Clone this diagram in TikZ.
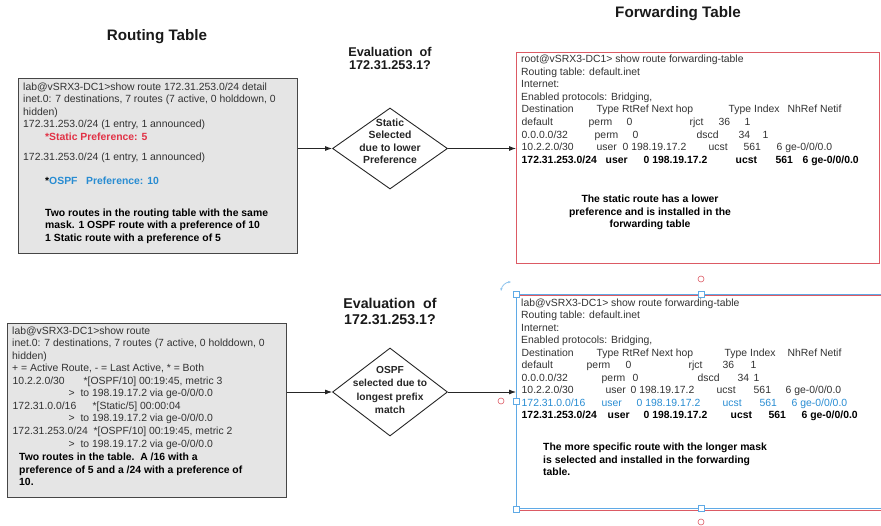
\documentclass[tikz,border=0pt]{standalone}
\usepackage{fontspec}
\setmainfont{Liberation Sans}
\usetikzlibrary{shapes.geometric,arrows.meta}

\definecolor{boxgray}{RGB}{229,229,229}
\definecolor{edgegray}{RGB}{70,70,70}
\definecolor{txtgray}{RGB}{50,50,50}
\definecolor{fwdred}{RGB}{220,90,100}
\definecolor{staticred}{RGB}{225,50,70}
\definecolor{ospfblue}{RGB}{40,140,210}
\definecolor{selblue}{RGB}{95,170,230}

% column helper: places #2 at #1 pt from the start of the line
\newcommand\cola[2]{\makebox[0pt][l]{\hspace*{#1pt}#2}}

\tikzset{
  txt/.style={anchor=base west, inner sep=0, font=\fontsize{10.4}{12.5}\selectfont, text=txtgray},
  btxt/.style={anchor=base west, inner sep=0, font=\fontsize{10.4}{12.5}\selectfont\bfseries, text=black},
  ctxt/.style={anchor=base, inner sep=0, font=\fontsize{10.4}{12.5}\selectfont\bfseries, text=black},
  title/.style={inner sep=0, font=\fontsize{15.2}{17}\selectfont\bfseries, text=black!90},
  evaltxt/.style={inner sep=0, align=center, text=black!90},
  rtbox/.style={draw=edgegray, fill=boxgray, line width=0.9pt, anchor=north west, inner sep=0},
  fwdbox/.style={draw=fwdred, line width=0.9pt, anchor=north west, inner sep=0},
  decision/.style={diamond, draw=black!85, line width=0.9pt, inner sep=0, minimum width=115pt},
  dtext/.style={align=center, inner sep=0, text=black!85},
  flow/.style={draw=black!85, line width=0.8pt, -{Latex[length=7pt,width=5pt]}},
  selhandle/.style={draw=selblue, fill=white, line width=0.8pt, minimum size=6pt, inner sep=0},
  ring/.style={circle, draw=fwdred, line width=0.6pt, minimum size=6pt, inner sep=0},
}

\begin{document}
\begin{tikzpicture}[x=1pt, y=-1pt]
\useasboundingbox (0,0) rectangle (881,526);

% ---------- headings ----------
\node[title] (rtitle) at (157,37) {Routing Table};
\node[title] (ftitle) at (678,14) {Forwarding Table};
\node[evaltxt, font=\fontsize{12.7}{13}\selectfont\bfseries] (eval1) at (390,58.5) {Evaluation~ of\\172.31.253.1?};
\node[evaltxt, font=\fontsize{14.2}{16}\selectfont\bfseries] (eval2) at (390,311) {Evaluation~ of\\172.31.253.1?};

% ---------- boxes ----------
\node[rtbox, minimum width=279pt, minimum height=175pt] (rt1) at (18,78) {};
\node[rtbox, minimum width=279pt, minimum height=174pt] (rt2) at (7,323) {};
\node[fwdbox, minimum width=363pt, minimum height=211pt] (ft1) at (516,52) {};
\node[fwdbox, minimum width=380pt, minimum height=214pt] (ft2red) at (516,295.5) {};
\node[fwdbox, draw=selblue, minimum width=380pt, minimum height=214pt] (ft2) at (516,294) {};

% ---------- decisions ----------
\node[decision, minimum height=81pt] (d1) at (390,148.5) {};
\node[dtext, font=\fontsize{10.4}{12.5}\selectfont\bfseries] (d1t) at (390,141.5) {Static\\Selected\\due to lower\\Preference};
\node[decision, minimum height=88pt] (d2) at (390,392) {};
\node[dtext, font=\fontsize{10.2}{13.2}\selectfont\bfseries] (d2t) at (390,390) {OSPF\\selected due to\\longest prefix\\match};

% ---------- connectors ----------
\draw[flow] (rt1.east |- d1.west) -- (d1.west);
\draw[flow] (d1.east) -- (ft1.west |- d1.east);
\draw[flow] (rt2.east |- d2.west) -- (d2.west);
\draw[flow] (d2.east) -- (ft2.west |- d2.east);

% ---------- routing table, detail ----------
\node[txt] (a1) at (23,90.5) {lab@vSRX3-DC1>show route 172.31.253.0/24 detail};
\node[txt] (a2) at (23,103) {inet.0: 7 destinations, 7 routes (7 active, 0 holddown, 0};
\node[txt] (a3) at (23,115.5) {hidden)};
\node[txt] (a4) at (23,128) {172.31.253.0/24 (1 entry, 1 announced)};
\node[btxt, text=staticred] (a5) at (45,140.5) {*Static Preference: 5};
\node[txt] (a6) at (23,160.5) {172.31.253.0/24 (1 entry, 1 announced)};
\node[btxt] (a7) at (45,184.5) {*\textcolor{ospfblue}{OSPF\ \ \ Preference: 10}};
\node[btxt] (a8) at (45,216.5) {Two routes in the routing table with the same};
\node[btxt] (a9) at (45,229) {mask. 1 OSPF route with a preference of 10};
\node[btxt] (a10) at (45,241.5) {1 Static route with a preference of 5};

% ---------- routing table, summary ----------
\node[txt] (b1) at (12,334.5) {lab@vSRX3-DC1>show route};
\node[txt] (b2) at (12,347) {inet.0: 7 destinations, 7 routes (7 active, 0 holddown, 0};
\node[txt] (b3) at (12,359.5) {hidden)};
\node[txt] (b4) at (12,372) {+ = Active Route, - = Last Active, * = Both};
\node[txt] (b5) at (12,384.5) {\cola{0}{10.2.2.0/30}\cola{71}{*[OSPF/10] 00:19:45, metric 3}};
\node[txt] (b6) at (12,397) {\cola{56}{>\ \ to 198.19.17.2 via ge-0/0/0.0}};
\node[txt] (b7) at (12,409.5) {\cola{0}{172.31.0.0/16}\cola{80}{*[Static/5] 00:00:04}};
\node[txt] (b8) at (12,422) {\cola{56}{>\ \ to 198.19.17.2 via ge-0/0/0.0}};
\node[txt] (b9) at (12,434.5) {\cola{0}{172.31.253.0/24}\cola{81}{*[OSPF/10] 00:19:45, metric 2}};
\node[txt] (b10) at (12,447) {\cola{56}{>\ \ to 198.19.17.2 via ge-0/0/0.0}};
\node[btxt] (b11) at (19,460.5) {Two routes in the table.\ \ A /16 with a};
\node[btxt] (b12) at (19,473) {preference of 5 and a /24 with a preference of};
\node[btxt] (b13) at (19,485.5) {10.};

% ---------- forwarding table, static wins ----------
\node[txt] (c1) at (521,62.5) {root@vSRX3-DC1> show route forwarding-table};
\node[txt] (c2) at (521,75.1) {Routing table: default.inet};
\node[txt] (c3) at (521,87.7) {Internet:};
\node[txt] (c4) at (521,100.3) {Enabled protocols: Bridging,};
\node[txt] (c5) at (521,112.9) {\cola{0}{Destination}\cola{75}{Type RtRef Next hop}\cola{207}{Type Index}\cola{266}{NhRef Netif}};
\node[txt] (c6) at (521,125.5) {\cola{0}{default}\cola{67}{perm}\cola{105}{0}\cola{168}{rjct}\cola{197}{36}\cola{223}{1}};
\node[txt] (c7) at (521,138.1) {\cola{0}{0.0.0.0/32}\cola{73}{perm}\cola{111}{0}\cola{175}{dscd}\cola{217}{34}\cola{241}{1}};
\node[txt] (c8) at (521,150.7) {\cola{0}{10.2.2.0/30}\cola{75}{user}\cola{101}{0 198.19.17.2}\cola{187}{ucst}\cola{222}{561}\cola{255}{6 ge-0/0/0.0}};
\node[btxt] (c9) at (521,163.3) {\cola{0}{172.31.253.0/24}\cola{84}{user}\cola{122}{0 198.19.17.2}\cola{214}{ucst}\cola{254}{561}\cola{281}{6 ge-0/0/0.0}};
\node[ctxt] (c10) at (650,203) {The static route has a lower};
\node[ctxt] (c11) at (650,215.5) {preference and is installed in the};
\node[ctxt] (c12) at (650,228) {forwarding table};

% ---------- forwarding table, longest prefix wins ----------
\node[txt] (e1) at (521,306.5) {lab@vSRX3-DC1> show route forwarding-table};
\node[txt] (e2) at (521,319) {Routing table: default.inet};
\node[txt] (e3) at (521,331.5) {Internet:};
\node[txt] (e4) at (521,344) {Enabled protocols: Bridging,};
\node[txt] (e5) at (521,356.5) {\cola{0}{Destination}\cola{75}{Type RtRef Next hop}\cola{203}{Type Index}\cola{266}{NhRef Netif}};
\node[txt] (e6) at (521,369) {\cola{0}{default}\cola{65}{perm}\cola{104}{0}\cola{167}{rjct}\cola{201}{36}\cola{229}{1}};
\node[txt] (e7) at (521,381.5) {\cola{0}{0.0.0.0/32}\cola{80}{perm}\cola{111}{0}\cola{176}{dscd}\cola{216}{34}\cola{232}{1}};
\node[txt] (e8) at (521,394) {\cola{0}{10.2.2.0/30}\cola{84}{user}\cola{109}{0 198.19.17.2}\cola{195}{ucst}\cola{232}{561}\cola{264}{6 ge-0/0/0.0}};
\node[txt, text=ospfblue] (e9) at (521,406.5) {\cola{0}{172.31.0.0/16}\cola{80}{user}\cola{115}{0 198.19.17.2}\cola{201}{ucst}\cola{238}{561}\cola{270}{6 ge-0/0/0.0}};
\node[btxt] (e10) at (521,419) {\cola{0}{172.31.253.0/24}\cola{86}{user}\cola{122}{0 198.19.17.2}\cola{209}{ucst}\cola{247}{561}\cola{280}{6 ge-0/0/0.0}};
\node[btxt] (e11) at (543,450.5) {The more specific route with the longer mask};
\node[btxt] (e12) at (543,463) {is selected and installed in the forwarding};
\node[btxt] (e13) at (543,475.5) {table.};

% ---------- selection handles on the lower forwarding box ----------
\node[selhandle] (h1) at (ft2.north west) {};
\node[selhandle] (h2) at (701,294) {};
\node[selhandle] (h3) at (ft2.south west) {};
\node[selhandle] (h4) at (701,508) {};
\node[selhandle] (h5) at (516,401) {};
\node[ring] (r1) at (701,279) {};
\node[ring] (r2) at (701,522) {};
\node[ring] (r3) at (501,401) {};
\coordinate (rotA) at (501,291);
\coordinate (rotB) at (511,282);
\draw[selblue!70, line width=0.8pt, {Stealth[length=3pt]}-{Stealth[length=3pt]}] (rotA) to[bend left=40] (rotB);
\end{tikzpicture}
\end{document}
